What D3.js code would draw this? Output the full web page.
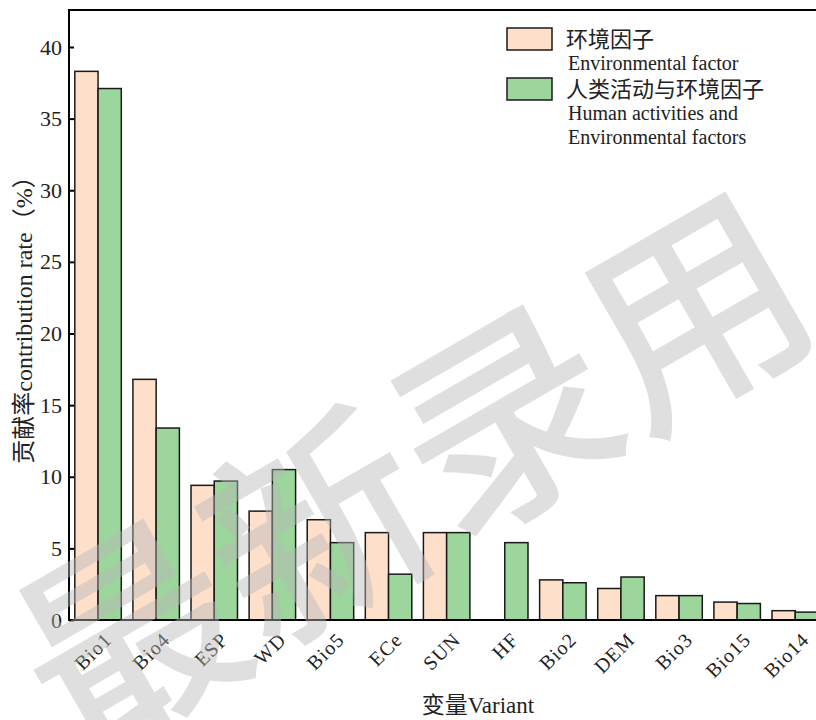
<!DOCTYPE html>
<html><head><meta charset="utf-8">
<script src="https://cdn.jsdelivr.net/npm/d3@7"></script>
<style>
html,body{margin:0;padding:0;background:#fff;}
svg{display:block;}
</style></head>
<body>
<svg id="chart" width="816" height="720"></svg>
<script>
const categories = ["Bio1","Bio4","ESP","WD","Bio5","ECe","SUN","HF","Bio2","DEM","Bio3","Bio15","Bio14"];
const envValues = [38.3,16.8,9.4,7.6,7.0,6.1,6.1,0,2.8,2.2,1.7,1.25,0.65];
const humanEnvValues = [37.1,13.4,9.7,10.5,5.4,3.2,6.1,5.4,2.6,3.0,1.7,1.15,0.55];
const yTicks = [0,5,10,15,20,25,30,35,40];
const seriesNames = ["环境因子","人类活动与环境因子"];
const seriesEnNames = [["Environmental factor"],["Human activities and","Environmental factors"]];
const seriesColors = ["#FEDFCA","#9CD69C"];

const serif = "'Liberation Serif','Times New Roman','Noto Sans CJK SC',serif";
const svg = d3.select("#chart");
const mLeft = 69, mBottom = 620, mTop = 10;

const x = d3.scaleBand().domain(categories).range([mLeft, mLeft + 13*58.1]).paddingInner(0.2).paddingOuter(0.1);
const xs = d3.scaleBand().domain([0,1]).range([0, x.bandwidth()]);
const y = d3.scaleLinear().domain([0, 40]).range([mBottom, 47]);

const series = [envValues, humanEnvValues];
const g = svg.append("g");
series.forEach((vals, si) => {
  g.selectAll(".b"+si).data(categories).enter().append("rect")
    .attr("x", d => x(d) + xs(si))
    .attr("y", (d,i) => y(vals[i]))
    .attr("width", xs.bandwidth())
    .attr("height", (d,i) => y(0) - y(vals[i]))
    .attr("fill", seriesColors[si])
    .attr("stroke", "#1a1a1a")
    .attr("stroke-width", 1.5);
});

// axes
const yAxis = d3.axisLeft(y).tickValues(yTicks).tickSizeInner(-5).tickSizeOuter(0).tickPadding(7);
const ya = svg.append("g").attr("transform", `translate(${mLeft},0)`).call(yAxis);
ya.select(".domain").remove();
ya.selectAll(".tick line").attr("stroke","#000").attr("stroke-width",2);
ya.selectAll("text").attr("font-family", serif).attr("font-size", 22).attr("fill","#222");

svg.append("line").attr("x1",mLeft).attr("x2",mLeft).attr("y1",mTop-1).attr("y2",mBottom+1).attr("stroke","#000").attr("stroke-width",2);
svg.append("line").attr("x1",mLeft-1).attr("x2",816).attr("y1",mTop).attr("y2",mTop).attr("stroke","#000").attr("stroke-width",2);
svg.append("line").attr("x1",mLeft-1).attr("x2",816).attr("y1",mBottom).attr("y2",mBottom).attr("stroke","#000").attr("stroke-width",2);

// x labels
svg.append("g").selectAll("text").data(categories).enter().append("text")
  .attr("transform", d => `translate(${x(d) + x.bandwidth()/2 + 15},641) rotate(-45)`)
  .attr("text-anchor","end")
  .attr("font-family", serif).attr("font-size", 20).attr("letter-spacing", 1)
  .attr("fill","#222")
  .text(d => d);

// axis titles
svg.append("text")
  .attr("transform", `translate(24,314) rotate(-90)`)
  .attr("text-anchor","middle").attr("dominant-baseline","central")
  .attr("font-family", serif).attr("font-size", 24).attr("fill","#222")
  .text("贡献率contribution rate（%）");
svg.append("text")
  .attr("x", 478).attr("y", 713)
  .attr("text-anchor","middle")
  .attr("font-family", serif).attr("font-size", 23).attr("fill","#222")
  .text("变量Variant");

// legend
const lg = svg.append("g");
const legendY = [28, 78];
seriesNames.forEach((n, i) => {
  lg.append("rect").attr("x",507).attr("y",legendY[i]).attr("width",45).attr("height",22)
    .attr("fill",seriesColors[i]).attr("stroke","#1a1a1a").attr("stroke-width",1.5);
  lg.append("text").attr("x",566).attr("y",legendY[i]+19)
    .attr("font-family", serif).attr("font-size",22).attr("fill","#222").text(n);
  seriesEnNames[i].forEach((t, j) => {
    lg.append("text").attr("x",568).attr("y",legendY[i]+42+j*24)
      .attr("font-family", serif).attr("font-size",20).attr("fill","#222").text(t);
  });
});

// watermark
svg.append("text")
  .attr("transform","translate(405,462) rotate(-30)")
  .attr("text-anchor","middle").attr("dominant-baseline","central")
  .attr("font-family","'Noto Sans CJK SC',sans-serif").attr("font-size",218).attr("font-weight",500)
  .attr("fill","#b8b8b8").attr("fill-opacity",0.45)
  .text("最新录用");
</script>
</body></html>
